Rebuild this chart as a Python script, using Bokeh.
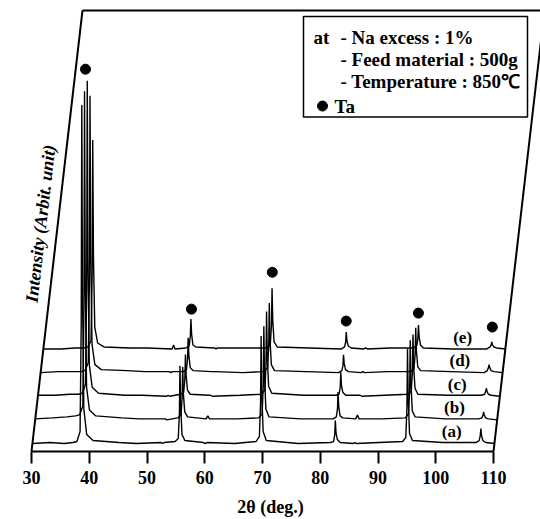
import numpy as np
from bokeh.plotting import figure
from bokeh.models import Range1d, FixedTicker
from bokeh.core.properties import value
from bokeh.embed import file_html
from bokeh.resources import INLINE

# ---------------- data ----------------
TWO_THETA = [30.0, 33.0, 35.5, 37.0, 37.7, 38.25, 38.45, 38.55, 38.67, 38.9,
             39.4, 40.5, 45.0, 48.0, 52.3, 52.55, 52.8, 54.7, 55.25, 55.45,
             55.55, 55.67, 55.9, 56.4, 59.6, 59.9, 60.2, 65.0, 68.7, 69.3,
             69.5, 69.6, 69.72, 69.95, 70.5, 76.0, 81.6, 82.15, 82.35, 82.45,
             82.57, 82.8, 83.3, 85.5, 85.8, 86.1, 90.0, 94.1, 94.65, 94.85,
             94.95, 95.07, 95.3, 95.8, 101.0, 106.8, 107.35, 107.55, 107.65, 107.77,
             108.0, 108.5, 110.0]

I_A = [0, 1, 0, 1, 2, 12, 120, 340, 150, 35,
       9, 3, 1, 0, 1, 0, 1, 2, 5, 30,
       78, 38, 9, 3, 1, 0, 1, 0, 2, 7,
       40, 108, 50, 12, 3, 0, 1, 2, 9, 23,
       11, 4, 1, 0, 1, 0, 1, 2, 6, 35,
       95, 45, 10, 3, 1, 1, 3, 8, 15, 8,
       3, 1, 0]
I_B = [1, 2, 3, 4, 5, 14, 115, 330, 145, 33,
       10, 4, 2, 1, 1, 1, 0, 2, 5, 22,
       53, 26, 8, 3, 1, 4, 1, 1, 2, 6,
       35, 94, 44, 11, 3, 1, 1, 3, 11, 28,
       13, 4, 2, 1, 5, 1, 1, 2, 6, 30,
       80, 38, 9, 3, 1, 1, 2, 5, 8, 5,
       2, 1, 0]
I_C = [1, 1, 2, 2, 3, 12, 110, 317, 140, 32,
       9, 3, 1, 1, 0, 1, 0, 2, 4, 18,
       42, 21, 6, 2, 1, 1, 0, 1, 2, 6,
       32, 85, 40, 10, 3, 1, 1, 2, 9, 24,
       11, 4, 1, 1, 1, 0, 1, 2, 5, 24,
       62, 30, 8, 2, 1, 1, 2, 5, 8, 5,
       2, 1, 0]
I_D = [0, 1, 1, 1, 2, 10, 95, 278, 125, 28,
       8, 3, 2, 1, 1, 0, 1, 1, 3, 15,
       35, 17, 5, 2, 1, 1, 1, 0, 1, 5,
       27, 70, 33, 8, 2, 1, 0, 2, 7, 18,
       9, 3, 1, 0, 1, 0, 1, 1, 4, 18,
       45, 22, 6, 2, 1, 0, 2, 5, 8, 5,
       2, 1, 0]
I_E = [0, 0, 1, 1, 2, 8, 75, 210, 95, 22,
       6, 2, 1, 1, 0, 4, 0, 1, 3, 13,
       30, 15, 4, 2, 1, 0, 1, 1, 1, 5,
       24, 61, 29, 7, 2, 1, 0, 2, 7, 17,
       8, 3, 1, 0, 1, 0, 1, 1, 3, 10,
       24, 12, 4, 1, 0, 0, 2, 4, 7, 4,
       2, 1, 0]
SERIES = [I_A, I_B, I_C, I_D, I_E]
TRACE_LABELS = ["(a)", "(b)", "(c)", "(d)", "(e)"]

# Ta peak markers (display 2θ, display intensity)
TA_MARK_X = [39.35, 57.7, 71.7, 84.5, 97.0, 109.8]
TA_MARK_Y = [384, 143, 180, 131, 139, 125]

X_TICKS = [30, 40, 50, 60, 70, 80, 90, 100, 110]
LEGEND_HEAD = "at"
LEGEND_LINES = ["- Na excess : 1%", "- Feed material : 500g", "- Temperature : 850\u2103"]
LEGEND_SYMBOL_LABEL = "Ta"
Y_LABEL = "Intensity (Arbit. unit)"
X_LABEL = "2\u03b8 (deg.)"

# ---------------- layout ----------------
W, H = 540, 519
AXIS_PY = 453                     # pixel row of the x axis
BOTTOM = H - AXIS_PY
PX0 = 31                          # pixel column of 2θ = 30
PXD = 5.775                       # pixels per degree
X0 = 30 - PX0 / PXD
X1 = X0 + W / PXD
TOP_Y = AXIS_PY - 10              # top edge of the slanted frame
SKEW = (82 - PX0) / PXD / TOP_Y   # degrees of shift per intensity unit
OFFSETS = [8 + 23.75 * i for i in range(5)]
FONT = value("Liberation Serif")


def dx(px):   # pixel column -> data x
    return 30 + (px - PX0) / PXD


def dy(py):   # pixel row -> data y
    return AXIS_PY - py


p = figure(width=W, height=H, x_range=Range1d(X0, X1), y_range=Range1d(0, AXIS_PY),
           output_backend="svg", toolbar_location=None, y_axis_location=None,
           min_border_left=0, min_border_right=0, min_border_top=0,
           min_border_bottom=BOTTOM)
p.grid.visible = False
p.outline_line_color = None
p.background_fill_color = "white"

# slanted frame
p.line([30, 30 + TOP_Y * SKEW], [0, TOP_Y], line_color="black", line_width=2)
p.line([30 + TOP_Y * SKEW, 125], [TOP_Y, TOP_Y], line_color="black", line_width=2)
p.line([110, 110 + TOP_Y * SKEW], [0, TOP_Y], line_color="black", line_width=2)

# traces
tt = np.array(TWO_THETA, dtype=float)
for vals, off in zip(SERIES, OFFSETS):
    p.line(tt + off * SKEW, np.array(vals, dtype=float) + off,
           line_color="black", line_width=1.4)

# trace labels
p.text(x=[102.6 + off * SKEW for off in OFFSETS], y=[off + 12 for off in OFFSETS],
       text=TRACE_LABELS, text_font=FONT, text_font_style="bold",
       text_font_size="17px", text_align="center", text_baseline="middle",
       text_color="black")

# Ta markers
p.scatter(x=TA_MARK_X, y=TA_MARK_Y, size=10, color="black")

# y label along slanted edge
p.text(x=[dx(40)], y=[dy(224)], text=[Y_LABEL], angle=float(np.arctan2(443, 51)),
       text_font=FONT, text_font_style="bold italic", text_font_size="18px",
       text_align="center", text_baseline="middle", text_color="black")

# legend box
p.quad(left=[dx(303)], right=[dx(527)], top=[dy(16)], bottom=[dy(117)],
       fill_color="white", line_color="black", line_width=1.5)
p.text(x=[dx(313)], y=[dy(37)], text=[LEGEND_HEAD], text_font=FONT,
       text_font_style="bold", text_font_size="19px", text_baseline="middle")
p.text(x=[dx(340)] * 3, y=[dy(37), dy(59), dy(81)], text=LEGEND_LINES, text_font=FONT,
       text_font_style="bold", text_font_size="19px", text_baseline="middle")
p.scatter(x=[dx(322)], y=[dy(106)], size=10, color="black")
p.text(x=[dx(334)], y=[dy(106)], text=[LEGEND_SYMBOL_LABEL], text_font=FONT,
       text_font_style="bold", text_font_size="19px", text_baseline="middle")

# x axis
ax = p.xaxis[0]
ax.ticker = FixedTicker(ticks=X_TICKS)
ax.bounds = (30, 110)
ax.axis_line_width = 2
ax.axis_line_color = "black"
ax.major_tick_line_width = 2
ax.major_tick_line_color = "black"
ax.major_tick_out = 12
ax.major_tick_in = 0
ax.minor_tick_line_color = None
ax.major_label_text_font = "Liberation Serif"
ax.major_label_text_font_style = "bold"
ax.major_label_text_font_size = "18px"
ax.major_label_text_color = "black"
ax.major_label_standoff = 7
ax.axis_label = X_LABEL
ax.axis_label_text_font = "Liberation Serif"
ax.axis_label_text_font_style = "bold"
ax.axis_label_text_font_size = "18px"
ax.axis_label_text_color = "black"
ax.axis_label_standoff = 10

open("out.html", "w").write(file_html(p, INLINE))
